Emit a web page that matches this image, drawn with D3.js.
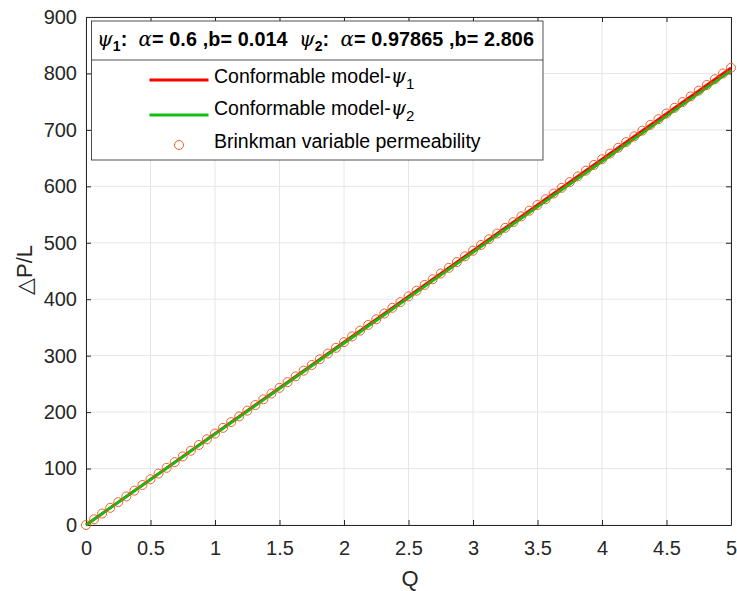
<!DOCTYPE html>
<html>
<head>
<meta charset="utf-8">
<script src="https://cdn.jsdelivr.net/npm/d3@7"></script>
<style>
  html, body { margin: 0; padding: 0; background: #fff; }
  svg { display: block; font-family: Arial, "Liberation Sans", sans-serif; }
  text { white-space: pre; }
</style>
</head>
<body>
<svg id="chart" width="737" height="591"></svg>
<script>
// Flow rate Q and pressure gradient samples (Brinkman, variable permeability)
const qValues = [
  0, 0.0625, 0.125, 0.1875, 0.25, 0.3125, 0.375, 0.4375, 0.5, 0.5625,
  0.625, 0.6875, 0.75, 0.8125, 0.875, 0.9375, 1, 1.0625, 1.125, 1.1875,
  1.25, 1.3125, 1.375, 1.4375, 1.5, 1.5625, 1.625, 1.6875, 1.75, 1.8125,
  1.875, 1.9375, 2, 2.0625, 2.125, 2.1875, 2.25, 2.3125, 2.375, 2.4375,
  2.5, 2.5625, 2.625, 2.6875, 2.75, 2.8125, 2.875, 2.9375, 3, 3.0625,
  3.125, 3.1875, 3.25, 3.3125, 3.375, 3.4375, 3.5, 3.5625, 3.625, 3.6875,
  3.75, 3.8125, 3.875, 3.9375, 4, 4.0625, 4.125, 4.1875, 4.25, 4.3125,
  4.375, 4.4375, 4.5, 4.5625, 4.625, 4.6875, 4.75, 4.8125, 4.875, 4.9375, 5
];
const brinkman = [
  0, 10.1, 20.3, 30.4, 40.5, 50.6, 60.8, 70.9, 81.0, 91.1,
  101.3, 111.4, 121.5, 131.6, 141.8, 151.9, 162.0, 172.1, 182.3, 192.4,
  202.5, 212.6, 222.8, 232.9, 243.0, 253.1, 263.3, 273.4, 283.5, 293.6,
  303.8, 313.9, 324.0, 334.1, 344.3, 354.4, 364.5, 374.6, 384.8, 394.9,
  405.0, 415.1, 425.3, 435.4, 445.5, 455.6, 465.8, 475.9, 486.0, 496.1,
  506.3, 516.4, 526.5, 536.6, 546.8, 556.9, 567.0, 577.1, 587.3, 597.4,
  607.5, 617.6, 627.8, 637.9, 648.0, 658.1, 668.3, 678.4, 688.5, 698.6,
  708.8, 718.9, 729.0, 739.1, 749.3, 759.4, 769.5, 779.6, 789.8, 799.9, 810.0
];
// Conformable model curves
const modelQ = [0, 0.5, 1, 1.5, 2, 2.5, 3, 3.5, 4, 4.5, 5];
const psi1 = [0, 81, 162, 243, 324, 405, 486, 567, 648, 729, 810];
const psi2 = [0, 80.5, 161, 241.5, 322, 402.5, 483, 563.5, 644, 724.5, 805];

const xTicks = [0, 0.5, 1, 1.5, 2, 2.5, 3, 3.5, 4, 4.5, 5];
const yTicks = [0, 100, 200, 300, 400, 500, 600, 700, 800, 900];

const svg = d3.select("#chart");
const m = { left: 86, right: 731, top: 17, bottom: 525 };
const axisColor = "#262626";
const serif = "'DejaVu Serif', 'Liberation Serif', serif";

const x = d3.scaleLinear().domain([0, 5]).range([m.left, m.right]);
const y = d3.scaleLinear().domain([0, 900]).range([m.bottom, m.top]);

// grid
const grid = svg.append("g");
grid.selectAll("line.gx").data(xTicks).join("line")
  .attr("x1", d => x(d)).attr("x2", d => x(d))
  .attr("y1", m.top).attr("y2", m.bottom)
  .attr("stroke", "#e6e6e6").attr("stroke-width", 1);
grid.selectAll("line.gy").data(yTicks).join("line")
  .attr("x1", m.left).attr("x2", m.right)
  .attr("y1", d => y(d)).attr("y2", d => y(d))
  .attr("stroke", "#e6e6e6").attr("stroke-width", 1);

// axes with inward ticks, box on all four sides
const fmt = d => String(d);
const tickFont = "20px";
const xAxis = svg.append("g").attr("transform", `translate(0,${m.bottom})`)
  .call(d3.axisBottom(x).tickValues(xTicks).tickFormat(fmt).tickSizeInner(-5).tickSizeOuter(0).tickPadding(16));
const yAxis = svg.append("g").attr("transform", `translate(${m.left},0)`)
  .call(d3.axisLeft(y).tickValues(yTicks).tickFormat(fmt).tickSizeInner(-5).tickSizeOuter(0).tickPadding(9));
const xTop = svg.append("g").attr("transform", `translate(0,${m.top})`)
  .call(d3.axisTop(x).tickValues(xTicks).tickFormat("").tickSizeInner(-5).tickSizeOuter(0));
const yRight = svg.append("g").attr("transform", `translate(${m.right},0)`)
  .call(d3.axisRight(y).tickValues(yTicks).tickFormat("").tickSizeInner(-5).tickSizeOuter(0));
[xAxis, yAxis, xTop, yRight].forEach(g => {
  g.select(".domain").attr("stroke", axisColor).attr("stroke-width", 1);
  g.selectAll(".tick line").attr("stroke", axisColor);
  g.selectAll(".tick text").attr("fill", axisColor).style("font-size", tickFont)
    .style("font-family", "Arial, 'Liberation Sans', sans-serif");
});

// axis labels
svg.append("text").attr("x", 410).attr("y", 586).attr("text-anchor", "middle")
  .attr("fill", axisColor).style("font-size", "22px").text("Q");
const yLab = svg.append("text").attr("transform", "translate(32,270) rotate(-90)").attr("text-anchor", "middle")
  .attr("fill", axisColor).style("font-size", "22px");
yLab.append("tspan").style("font-family", "'DejaVu Sans', sans-serif").text("\u25B3");
yLab.append("tspan").text("P/L");

// model lines
const line = d3.line().x(d => x(d[0])).y(d => y(d[1]));
svg.append("path").datum(modelQ.map((q, i) => [q, psi1[i]]))
  .attr("d", line).attr("fill", "none").attr("stroke", "#ff0000").attr("stroke-width", 2.8);
svg.append("path").datum(modelQ.map((q, i) => [q, psi2[i]]))
  .attr("d", line).attr("fill", "none").attr("stroke", "#10c010").attr("stroke-width", 2.8);

// Brinkman markers
const markerColor = "#e4531c";
svg.append("g").selectAll("circle").data(qValues.map((q, i) => [q, brinkman[i]])).join("circle")
  .attr("cx", d => x(d[0])).attr("cy", d => y(d[1])).attr("r", 4.5)
  .attr("fill", "none").attr("stroke", markerColor).attr("stroke-width", 0.9);

// legend
const lg = svg.append("g");
const L = { x0: 91.5, x1: 543, y0: 21, ySep: 60, y1: 160 };
lg.append("rect").attr("x", L.x0).attr("y", L.y0).attr("width", L.x1 - L.x0).attr("height", L.y1 - L.y0)
  .attr("fill", "#fff").attr("stroke", axisColor).attr("stroke-width", 0.8);
lg.append("line").attr("x1", L.x0).attr("x2", L.x1).attr("y1", L.ySep).attr("y2", L.ySep)
  .attr("stroke", axisColor).attr("stroke-width", 0.8);

const title = lg.append("text").attr("x", 97).attr("y", 46).attr("fill", "#000")
  .style("font-size", "18px").style("font-weight", "bold");
const addPsi = (t, sub) => {
  t.append("tspan").style("font-family", serif).style("font-style", "italic").style("font-weight", "normal")
    .style("font-size", "20px").text("\u03C8");
  t.append("tspan").attr("dy", 5).style("font-size", "14px").text(sub);
  t.append("tspan").attr("dy", -5).text(":  ");
};
const addAlpha = t => t.append("tspan").style("font-family", serif).style("font-style", "italic")
  .style("font-weight", "normal").text("\u03B1");
addPsi(title, "1");
addAlpha(title);
title.append("tspan").text("= 0.6 ,b= 0.014  ");
addPsi(title, "2");
addAlpha(title);
title.append("tspan").text("= 0.97865 ,b= 2.806");
// stretch the header to span the legend width
const tw = title.node().getComputedTextLength();
title.attr("textLength", 437).attr("lengthAdjust", "spacing");
if (Math.abs(tw - 437) > 30) {
  title.style("font-size", (18 * 437 / tw).toFixed(2) + "px");
}

const entries = [
  { type: "line", color: "#ff0000", cy: 80, ty: 83, label: "Conformable model-", sub: "1" },
  { type: "line", color: "#10c010", cy: 115, ty: 115, label: "Conformable model-", sub: "2" },
  { type: "marker", color: markerColor, cy: 145, ty: 148, label: "Brinkman variable permeability" }
];
entries.forEach(e => {
  if (e.type === "line") {
    lg.append("line").attr("x1", 149.5).attr("x2", 208.5).attr("y1", e.cy).attr("y2", e.cy)
      .attr("stroke", e.color).attr("stroke-width", 3);
  } else {
    lg.append("circle").attr("cx", 179).attr("cy", e.cy).attr("r", 4.5)
      .attr("fill", "none").attr("stroke", e.color).attr("stroke-width", 0.9);
  }
  const t = lg.append("text").attr("x", 214).attr("y", e.ty).attr("fill", "#000")
    .style("font-size", "19.5px");
  t.append("tspan").text(e.label);
  if (e.sub) {
    t.append("tspan").style("font-family", serif).style("font-style", "italic").text("\u03C8");
    t.append("tspan").attr("dy", 6).style("font-size", "15px").text(e.sub);
  }
});
</script>
</body>
</html>
